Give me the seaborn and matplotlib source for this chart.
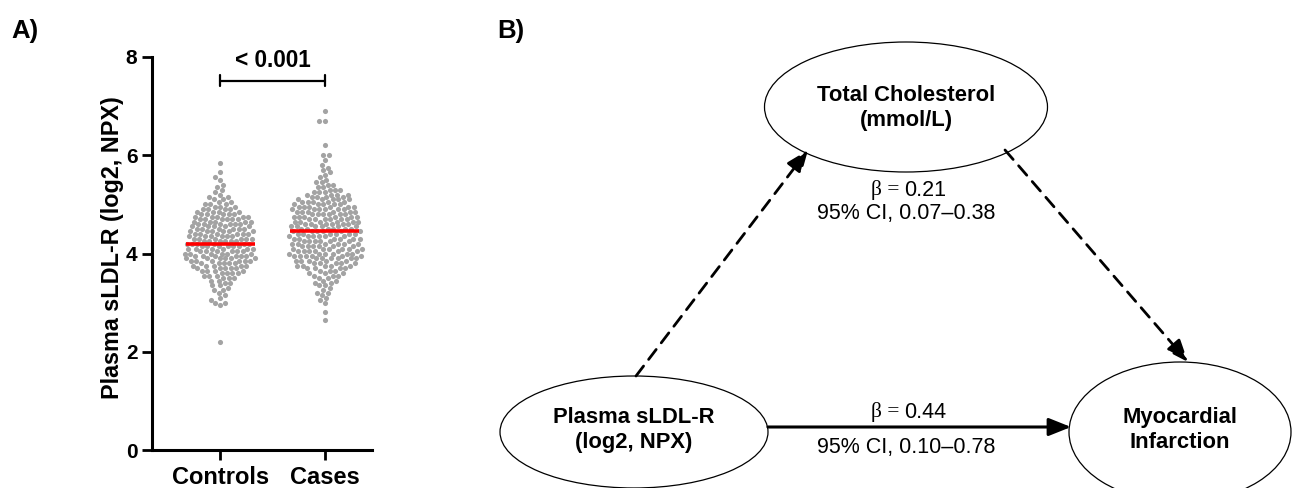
import numpy as np
import pandas as pd
import matplotlib
matplotlib.use("Agg")
import matplotlib.pyplot as plt
import seaborn as sns
from matplotlib.patches import Ellipse, FancyArrowPatch

# ---------------- data ----------------
groups = ["Controls", "Cases"]

ctrl_vals = [2.20, 2.95, 3.00, 3.05, 3.10, 3.15, 3.20, 3.25, 3.30, 3.35, 3.40,
             3.45, 3.50, 3.55, 3.60, 3.65, 3.70, 3.75, 3.80, 3.85, 3.90,
             3.95, 4.00, 4.05, 4.10, 4.15, 4.20, 4.25, 4.30, 4.35, 4.40,
             4.45, 4.50, 4.55, 4.60, 4.65, 4.70, 4.75, 4.80, 4.85, 4.90,
             4.95, 5.00, 5.05, 5.10, 5.15, 5.20, 5.25, 5.30, 5.35, 5.40,
             5.50, 5.55, 5.65, 5.85]
ctrl_counts = [1, 1, 2, 1, 1, 1, 1, 2, 1, 2, 2,
               2, 3, 3, 4, 4, 5, 5, 5, 6, 6,
               6, 6, 6, 6, 6, 6, 6, 6, 6, 6,
               6, 6, 5, 6, 5, 6, 5, 5, 4, 4,
               3, 3, 2, 2, 2, 1, 1, 1, 1, 1,
               1, 1, 1, 1]

case_vals = [2.65, 2.80, 3.00, 3.05, 3.10, 3.15, 3.20, 3.25, 3.30, 3.35, 3.40,
             3.45, 3.50, 3.55, 3.60, 3.65, 3.70, 3.75, 3.80, 3.85, 3.90,
             3.95, 4.00, 4.05, 4.10, 4.15, 4.20, 4.25, 4.30, 4.35, 4.40,
             4.45, 4.50, 4.55, 4.60, 4.65, 4.70, 4.75, 4.80, 4.85, 4.90,
             4.95, 5.00, 5.05, 5.10, 5.15, 5.20, 5.25, 5.30, 5.35, 5.40,
             5.45, 5.50, 5.55, 5.60, 5.65, 5.70, 5.75, 5.80, 5.90, 6.00,
             6.20, 6.70, 6.90]
case_counts = [1, 1, 1, 1, 1, 1, 2, 1, 1, 2, 2,
               2, 2, 3, 3, 3, 4, 5, 5, 5, 6,
               6, 6, 6, 6, 6, 6, 6, 6, 6, 6,
               6, 6, 6, 6, 6, 6, 6, 6, 6, 6,
               6, 5, 5, 5, 4, 4, 3, 3, 2, 2,
               2, 1, 1, 1, 1, 1, 1, 1, 1, 2,
               1, 2, 1]

center_lines = [4.20, 4.46]          # red central lines
p_text = "< 0.001"
bracket_y = 7.52

y_ticks = [0, 2, 4, 6, 8]
y_label = "Plasma sLDL-R (log2, NPX)"

# panel B texts
node_labels = ["Total Cholesterol\n(mmol/L)", "Plasma sLDL-R\n(log2, NPX)",
               "Myocardial\nInfarction"]
beta_values = ["0.21", "0.44"]
ci_texts = ["95% CI, 0.07\u20130.38", "95% CI, 0.10\u20130.78"]

# ---------------- style ----------------
sns.set_style("ticks")
plt.rcParams["font.family"] = ["Liberation Sans", "DejaVu Sans"]
plt.rcParams["font.weight"] = "bold"
for k in ["text.color", "axes.labelcolor", "xtick.color", "ytick.color",
          "axes.edgecolor"]:
    plt.rcParams[k] = "black"

W, H = 1296, 488
fig = plt.figure(figsize=(W / 100, H / 100), dpi=100)

# ---------------- Panel A ----------------
df = pd.DataFrame({
    "group": np.repeat(groups, [sum(ctrl_counts), sum(case_counts)]),
    "value": np.concatenate([np.repeat(ctrl_vals, ctrl_counts),
                             np.repeat(case_vals, case_counts)]),
})

axA = fig.add_axes([152 / W, 1 - 450 / H, 220 / W, 393 / H])
sns.swarmplot(data=df, x="group", y="value", order=groups, color="#a3a3a3",
              size=3.7, linewidth=0, ax=axA, zorder=2, warn_thresh=1.0)
xpos = np.arange(len(groups))
axA.hlines(center_lines, xpos - 0.33, xpos + 0.33, color="#ff0000", lw=2.6,
           zorder=3)

axA.set_xlim(-0.65, 1.45)
axA.set_ylim(0, 8)
axA.set_yticks(y_ticks)
axA.set_xlabel("")
axA.set_ylabel(y_label, fontsize=16.8, fontweight="bold")
axA.yaxis.set_label_coords(-0.125, 0.515)
for s in ["top", "right"]:
    axA.spines[s].set_visible(False)
for s in ["left", "bottom"]:
    axA.spines[s].set_linewidth(2.2)
axA.tick_params(axis="both", direction="out", length=7.5, width=2.0,
                labelsize=15, pad=3, colors="black")
axA.tick_params(axis="x", labelsize=17, pad=4)
for lab in axA.get_xticklabels() + axA.get_yticklabels():
    lab.set_fontweight("bold")

# significance bracket
axA.plot([0, 1], [bracket_y, bracket_y], color="black", lw=1.6,
         clip_on=False)
for xb in (0, 1):
    axA.plot([xb, xb], [bracket_y - 0.12, bracket_y + 0.12], color="black",
             lw=1.6, clip_on=False)
axA.text(0.5, bracket_y + 0.17, p_text, ha="center", va="bottom",
         fontsize=16.3, fontweight="bold", color="black")

# ---------------- Panel B (pixel coordinates) ----------------
axB = fig.add_axes([0, 0, 1, 1], facecolor="none")
axB.set_xlim(0, W)
axB.set_ylim(H, 0)
axB.axis("off")

fig.text(11 / W, 1 - 19 / H, "A)", fontsize=18.5, fontweight="bold",
         va="top", ha="left", color="black")
fig.text(497 / W, 1 - 19 / H, "B)", fontsize=18.5, fontweight="bold",
         va="top", ha="left", color="black")

ell_specs = [((906, 107), 283, 130), ((634, 432), 268, 112),
             ((1180, 432), 222, 140)]
for (c, w, h) in ell_specs:
    axB.add_patch(Ellipse(c, w, h, facecolor="white", edgecolor="black",
                          lw=0.9, clip_on=False))

node_pos = [(906, 108), (634, 430), (1180, 430)]
for (x, y), t in zip(node_pos, node_labels):
    axB.text(x, y, t, ha="center", va="center", fontsize=15.8,
             fontweight="bold", linespacing=1.25, color="black")

arrow_style = "-|>,head_length=0.75,head_width=0.3"
a1 = FancyArrowPatch((636, 376), (808, 150), arrowstyle=arrow_style,
                     mutation_scale=18, color="black", lw=2.0,
                     linestyle=(0, (4.5, 3.0)), shrinkA=0, shrinkB=0)
a2 = FancyArrowPatch((1005, 150), (1188, 362), arrowstyle=arrow_style,
                     mutation_scale=18, color="black", lw=2.0,
                     linestyle=(0, (4.5, 3.0)), shrinkA=0, shrinkB=0)
a3 = FancyArrowPatch((768, 427), (1071, 427), arrowstyle=arrow_style,
                     mutation_scale=18, color="black", lw=2.2,
                     shrinkA=0, shrinkB=0)
for a in (a1, a2, a3):
    axB.add_patch(a)

beta_pos = [(190, 214), (412, 447)]
for bv, ci, (yb, yc) in zip(beta_values, ci_texts, beta_pos):
    axB.text(899, yb, "\u03b2 =", ha="right", va="center", fontsize=15.5,
             fontweight="normal", color="black",
             family=["Liberation Serif", "DejaVu Serif"])
    axB.text(904, yb, bv, ha="left", va="center", fontsize=15.5,
             fontweight="normal", color="black")
    axB.text(906, yc, ci, ha="center", va="center", fontsize=15.5,
             fontweight="normal", color="black")

fig.savefig("out.png", dpi=100)
